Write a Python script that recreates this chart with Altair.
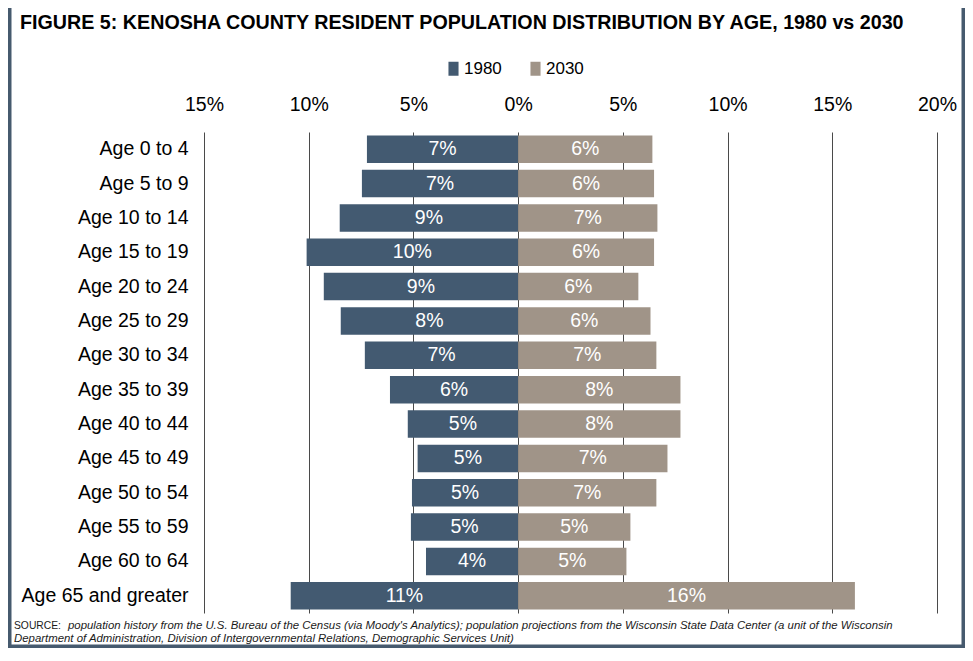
import altair as alt
import pandas as pd

ages = ["Age 0 to 4", "Age 5 to 9", "Age 10 to 14", "Age 15 to 19", "Age 20 to 24",
        "Age 25 to 29", "Age 30 to 34", "Age 35 to 39", "Age 40 to 44", "Age 45 to 49",
        "Age 50 to 54", "Age 55 to 59", "Age 60 to 64", "Age 65 and greater"]
pct_1980 = [7.22, 7.46, 8.52, 10.1, 9.28, 8.47, 7.32, 6.12, 5.27, 4.8, 5.07, 5.12, 4.40, 10.86]
pct_2030 = [6.41, 6.49, 6.65, 6.49, 5.74, 6.32, 6.6, 7.75, 7.75, 7.13, 6.6, 5.36, 5.17, 16.08]
years = ["1980", "2030"]
colors = ["#435a71", "#a09488"]
tick_values = [-15, -10, -5, 0, 5, 10, 15, 20]

title_text = "FIGURE 5: KENOSHA COUNTY RESIDENT POPULATION DISTRIBUTION BY AGE, 1980 vs 2030"
source_head = "SOURCE:"
source_line1 = ("population history from the U.S. Bureau of the Census (via Moody's Analytics); "
                "population projections from the Wisconsin State Data Center (a unit of the Wisconsin")
source_line2 = ("Department of Administration, Division of Intergovernmental Relations, "
                "Demographic Services Unit)")

rows = []
for a, v in zip(ages, pct_1980):
    rows.append({"age": a, "year": "1980", "value": v, "signed": -v})
for a, v in zip(ages, pct_2030):
    rows.append({"age": a, "year": "2030", "value": v, "signed": v})
df = pd.DataFrame(rows)

FONT = "Liberation Sans"
FS = 19.5

base = alt.Chart(df).transform_calculate(
    mid="datum.signed / 2",
    label="format(datum.value, '.0f') + '%'"
)

bars = base.mark_bar().encode(
    y=alt.Y("age:N", sort=ages,
            scale=alt.Scale(paddingInner=0.2, paddingOuter=0.1),
            axis=alt.Axis(title=None, labelFontSize=FS, labelFont=FONT, labelColor="black",
                          ticks=False, tickSize=0, domain=False, labelPadding=16, grid=False)),
    x=alt.X("signed:Q",
            scale=alt.Scale(domain=[-15, 20], nice=False, zero=False),
            axis=alt.Axis(orient="top", values=tick_values, title=None,
                          labelExpr="abs(datum.value) + '%'",
                          labelFontSize=FS, labelFont=FONT, labelColor="black",
                          labelFlush=False, labelOverlap=False,
                          ticks=False, tickSize=0, domain=False, labelPadding=18,
                          grid=True, gridColor="#4a4a4a", gridWidth=1, gridOpacity=1)),
    x2=alt.datum(0),
    color=alt.Color("year:N",
                    scale=alt.Scale(domain=years, range=colors),
                    legend=alt.Legend(title=None, orient="none", legendX=241, legendY=-72,
                                      direction="horizontal",
                                      symbolType="M-0.72,-1H0.72V1H-0.72Z",
                                      symbolSize=196, symbolStrokeWidth=0, symbolOpacity=1,
                                      labelFontSize=17, labelFont=FONT, labelColor="black",
                                      labelOffset=2, columnPadding=25)),
)

labels = base.mark_text(color="white", fontSize=FS, font=FONT, baseline="middle").encode(
    y=alt.Y("age:N", sort=ages),
    x=alt.X("mid:Q"),
    text="label:N",
)

one = pd.DataFrame({"k": [0]})

title = alt.Chart(one).mark_text(
    text=title_text, align="left", baseline="middle", font=FONT, fontSize=19.7,
    fontWeight="bold", color="black"
).encode(x=alt.value(-184), y=alt.value(-109))

src_head = alt.Chart(one).mark_text(
    text=source_head, align="left", baseline="middle", font=FONT, fontSize=10.3,
    color="#1a1a1a"
).encode(x=alt.value(-190), y=alt.value(494))

src1 = alt.Chart(one).mark_text(
    text=source_line1, align="left", baseline="middle", font=FONT, fontSize=11.4,
    fontStyle="italic", color="#1a1a1a"
).encode(x=alt.value(-136), y=alt.value(494))

src2 = alt.Chart(one).mark_text(
    text=source_line2, align="left", baseline="middle", font=FONT, fontSize=11.4,
    fontStyle="italic", color="#1a1a1a"
).encode(x=alt.value(-190), y=alt.value(507))

frame = alt.Chart(one).mark_rect(
    fill=None, stroke="#465a6e", strokeWidth=3.5
).encode(x=alt.value(-194.25), x2=alt.value(759.25), y=alt.value(-140), y2=alt.value(514.25))

chart = alt.layer(bars, labels, title, src_head, src1, src2, frame).properties(
    width=733, height=481,
    autosize=alt.AutoSizeParams(type="none"),
    padding={"left": 196, "top": 124, "right": 28, "bottom": 35},
    background="white",
).configure_view(stroke=None)

chart.save("out.html", embed_options={"renderer": "svg", "actions": False})
